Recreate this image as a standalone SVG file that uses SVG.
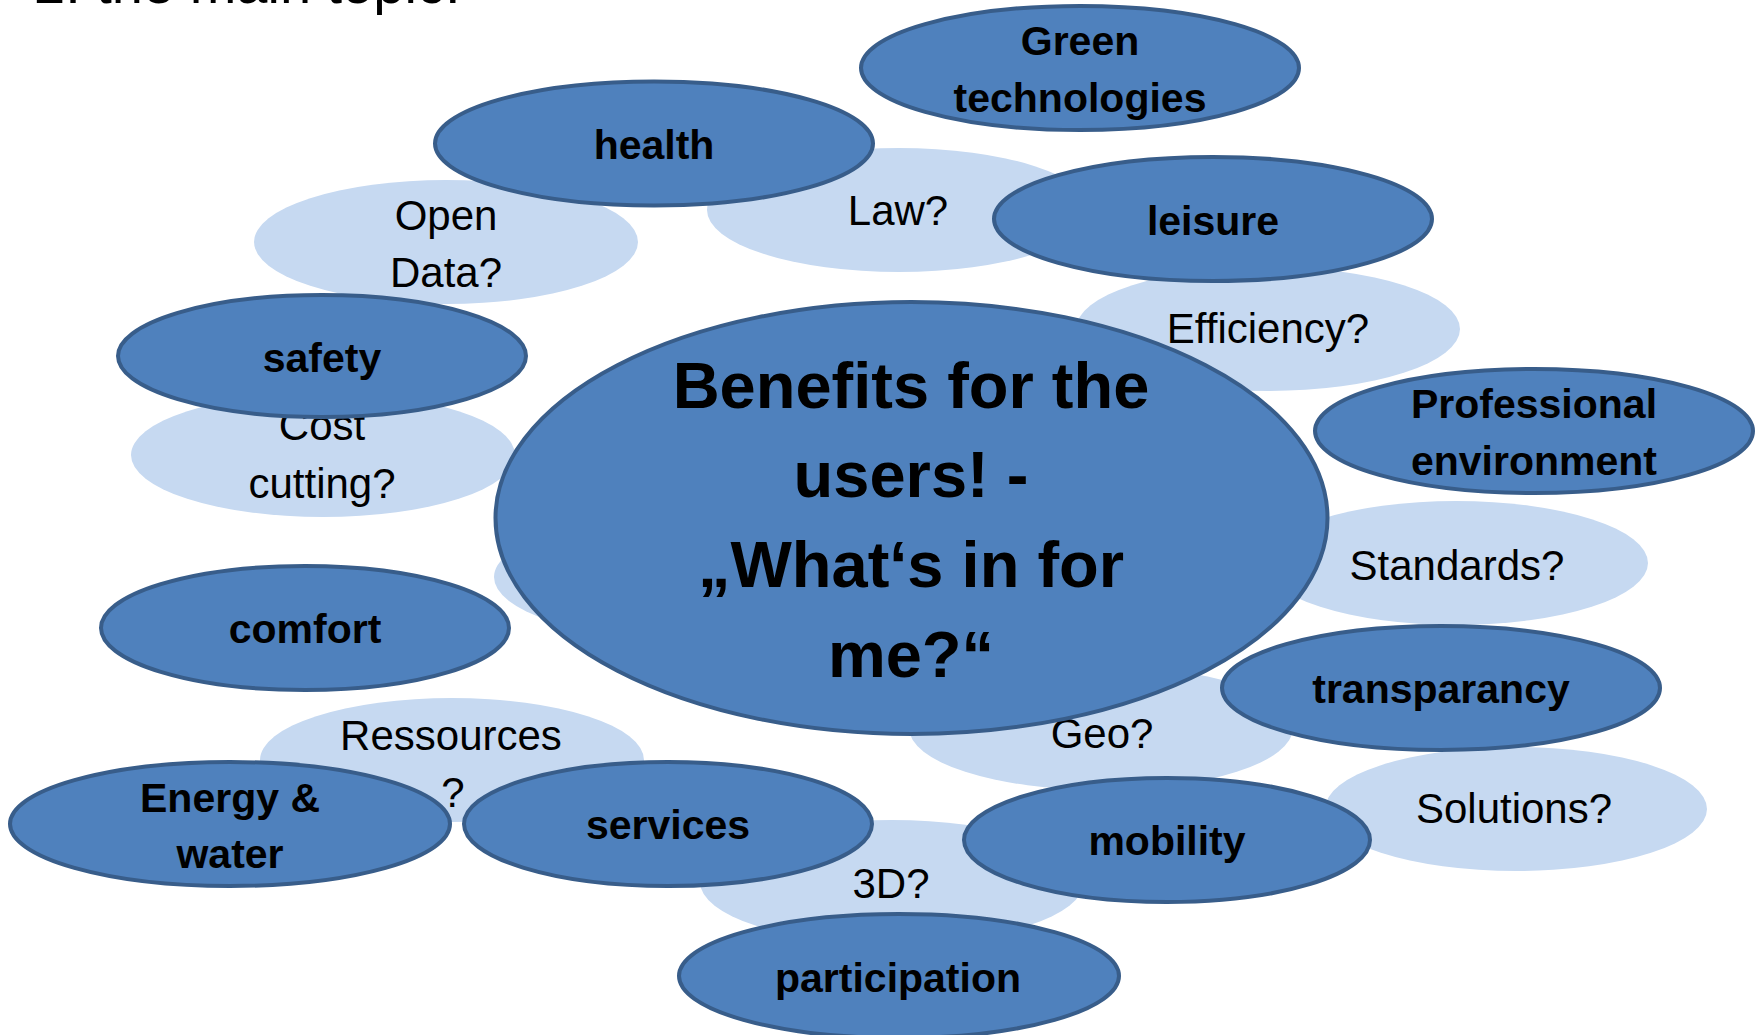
<svg xmlns="http://www.w3.org/2000/svg" width="1758" height="1035" viewBox="0 0 1758 1035">
<style>
.lt{fill:#C6D9F1;stroke:none}
.dk{fill:#4F81BD;stroke:#385D8A;stroke-width:4}
.r{font-family:"Liberation Sans",Arial,sans-serif;font-size:42px;fill:#000;text-anchor:middle}
.b{font-family:"Liberation Sans",Arial,sans-serif;font-size:41px;font-weight:bold;fill:#000;text-anchor:middle}
.c{font-family:"Liberation Sans",Arial,sans-serif;font-size:65px;font-weight:bold;fill:#000;text-anchor:middle}
.t{font-family:"Liberation Sans",Arial,sans-serif;font-size:56px;fill:#000}
</style>
<rect width="1758" height="1035" fill="#FFFFFF"/>
<text class="t" x="34" y="3">2. the main topic:</text>
<g id="connectors"/>
<g id="q-opendata"><ellipse class="lt" cx="446" cy="242" rx="192" ry="62"/><text class="r" x="446" y="230">Open</text><text class="r" x="446" y="287">Data?</text></g>
<g id="q-law"><ellipse class="lt" cx="899" cy="210" rx="192" ry="62"/><text class="r" x="898" y="225">Law?</text></g>
<g id="q-efficiency"><ellipse class="lt" cx="1268" cy="329" rx="192" ry="62"/><text class="r" x="1268" y="343">Efficiency?</text></g>
<g id="q-costcutting"><ellipse class="lt" cx="323" cy="455" rx="192" ry="62"/><text class="r" x="322" y="440">Cost</text><text class="r" x="322" y="498">cutting?</text></g>
<g id="q-hidden"><ellipse class="lt" cx="686" cy="577" rx="192" ry="62"/></g>
<g id="q-standards"><ellipse class="lt" cx="1456" cy="563" rx="192" ry="62"/><text class="r" x="1457" y="580">Standards?</text></g>
<g id="q-geo"><ellipse class="lt" cx="1101" cy="728" rx="192" ry="62"/><text class="r" x="1102" y="748">Geo?</text></g>
<g id="q-ressources"><ellipse class="lt" cx="452" cy="760" rx="192" ry="62"/><text class="r" x="451" y="750">Ressources</text><text class="r" x="453" y="807">?</text></g>
<g id="q-solutions"><ellipse class="lt" cx="1516" cy="809" rx="191" ry="62"/><text class="r" x="1514" y="823">Solutions?</text></g>
<g id="q-3d"><ellipse class="lt" cx="892" cy="882" rx="192" ry="62"/><text class="r" x="891" y="898">3D?</text></g>
<g id="center"><ellipse class="dk" cx="911.5" cy="518" rx="416" ry="216"/>
<text class="c" x="911" y="408">Benefits for the</text>
<text class="c" x="911" y="497">users! -</text>
<text class="c" x="911" y="587">„What‘s in for</text>
<text class="c" x="911" y="677">me?“</text></g>
<g id="n-green"><ellipse class="dk" cx="1080" cy="68" rx="219" ry="62"/><text class="b" x="1080" y="55">Green</text><text class="b" x="1080" y="112">technologies</text></g>
<g id="n-health"><ellipse class="dk" cx="654" cy="143.5" rx="219" ry="62"/><text class="b" x="654" y="159">health</text></g>
<g id="n-leisure"><ellipse class="dk" cx="1213" cy="219" rx="219" ry="62"/><text class="b" x="1213" y="235">leisure</text></g>
<g id="n-safety"><ellipse class="dk" cx="322" cy="356" rx="204" ry="61"/><text class="b" x="322" y="372">safety</text></g>
<g id="n-professional"><ellipse class="dk" cx="1534" cy="431" rx="219" ry="62"/><text class="b" x="1534" y="418">Professional</text><text class="b" x="1534" y="475">environment</text></g>
<g id="n-comfort"><ellipse class="dk" cx="305" cy="628" rx="204" ry="62"/><text class="b" x="305" y="643">comfort</text></g>
<g id="n-transparancy"><ellipse class="dk" cx="1441" cy="688" rx="219" ry="62"/><text class="b" x="1441" y="703">transparancy</text></g>
<g id="n-energy"><ellipse class="dk" cx="230" cy="824" rx="220" ry="62"/><text class="b" x="230" y="812">Energy &amp;</text><text class="b" x="230" y="868">water</text></g>
<g id="n-services"><ellipse class="dk" cx="668" cy="824" rx="204" ry="62"/><text class="b" x="668" y="839">services</text></g>
<g id="n-mobility"><ellipse class="dk" cx="1167" cy="840" rx="203" ry="62"/><text class="b" x="1167" y="855">mobility</text></g>
<g id="n-participation"><ellipse class="dk" cx="899" cy="976" rx="220" ry="62"/><text class="b" x="898" y="992">participation</text></g>
</svg>
